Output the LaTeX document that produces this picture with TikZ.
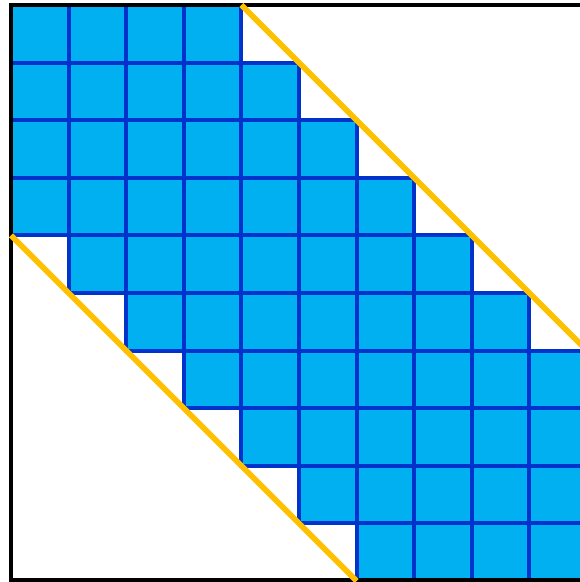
\documentclass[tikz,border=0pt]{standalone}
\definecolor{cellfill}{RGB}{0,176,240}
\definecolor{cellline}{RGB}{0,51,204}
\definecolor{bandcol}{RGB}{255,192,0}
\begin{document}
\begin{tikzpicture}[x=1pt,y=-1pt,
  cell/.style={fill=cellfill,draw=cellline,line width=4pt},
  frameline/.style={draw=black,line width=4.5pt},
  bandline/.style={draw=bandcol,line width=5.6pt}]
\useasboundingbox (0,0) rectangle (580,582);
\clip (0,0) rectangle (580,582);
\def\s{57.6}
\foreach \r in {0,...,9}{
  \foreach \c in {0,...,9}{
    \pgfmathtruncatemacro\d{abs(\c-\r)}
    \ifnum\d<4
      \path[cell] ({11+\c*\s},{5+\r*\s}) rectangle +(\s,\s);
    \fi
  }
}
\draw[frameline] (11,5) rectangle (586.6,580.5);
\draw[bandline] (241.4,5) -- (600,363.6);
\draw[bandline] (11,235.4) -- (356.6,581);
\end{tikzpicture}
\end{document}
